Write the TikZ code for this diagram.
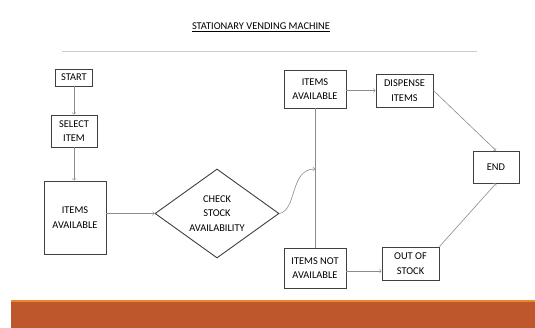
\documentclass[tikz,border=0pt]{standalone}
\usepackage{fontspec}
\setmainfont{Carlito}
\usepackage{tikz}
\usetikzlibrary{shapes.geometric}
\usetikzlibrary{arrows}
\usepackage{xcolor}
\definecolor{boxline}{HTML}{404040}
\definecolor{linkline}{HTML}{8C8C8C}
\definecolor{barorange}{HTML}{BE582C}
\definecolor{barlight}{HTML}{E8892B}

\begin{document}
\begin{tikzpicture}[x=1pt,y=-1pt,
  font=\fontsize{10.4}{14.5}\selectfont,
  box/.style={rectangle,draw=boxline,line width=0.9pt,inner sep=0pt,align=center},
  decision/.style={diamond,draw=boxline,line width=0.9pt,inner sep=0pt,aspect=1.4,align=center,minimum width=124pt,minimum height=89pt},
  link/.style={draw=linkline,line width=0.6pt,->,>=to}]
\fill [white] (0,0) rectangle (535,328);
\useasboundingbox (0,0) rectangle (535,328);

\node [at={(261,27)}] (title) {\underline{STATIONARY VENDING MACHINE}};
\draw [gray!40,line width=0.8pt] (62,51) -- (477,51);

\node [box,minimum width=37pt,minimum height=17pt,at={(74,77.5)}] (start) {START};
\node [box,minimum width=46pt,minimum height=32pt,at={(74,131)}] (select) {SELECT\\ITEM};
\node [box,minimum width=62pt,minimum height=73pt,at={(75,217.5)}] (stock) {ITEMS\\AVAILABLE};
\node [decision,at={(217,213.5)}] (check) {CHECK\\STOCK\\AVAILABILITY};
\node [box,minimum width=62pt,minimum height=38pt,at={(315,89)}] (avail) {ITEMS\\AVAILABLE};
\node [box,minimum width=57pt,minimum height=33pt,at={(404.5,90.5)}] (dispense) {DISPENSE\\ITEMS};
\node [box,minimum width=46pt,minimum height=32pt,at={(496,167)}] (end) {END};
\node [box,minimum width=62pt,minimum height=40pt,at={(315,268)}] (notavail) {ITEMS NOT\\AVAILABLE};
\node [box,minimum width=57pt,minimum height=33pt,at={(410.5,263.5)}] (outstock) {OUT OF\\STOCK};
\coordinate (join) at (315,169);

\draw [link] (start) -- (select);
\draw [link] (select) -- (select |- stock.north);
\draw [link] (stock.east |- check) -- (check.west);
\draw [link] (check.east) .. controls (297,210) and (290,169) .. (join);
\draw [draw=linkline,line width=0.8pt] (avail.south) -- (notavail.north);
\draw [link] (avail.east |- dispense) -- (dispense.west);
\draw [link] ([yshift=-3pt]notavail.east) -- ([yshift=-3pt]notavail.east -| outstock.west);
\draw [link] (dispense.east) -- (end.north);
\draw [link] (outstock.north east) -- (end.south);

% bottom bar
\fill [barorange] (11,300) rectangle (535,328);
\fill [barlight] (11,300) rectangle (535,302.5);
\end{tikzpicture}
\end{document}
